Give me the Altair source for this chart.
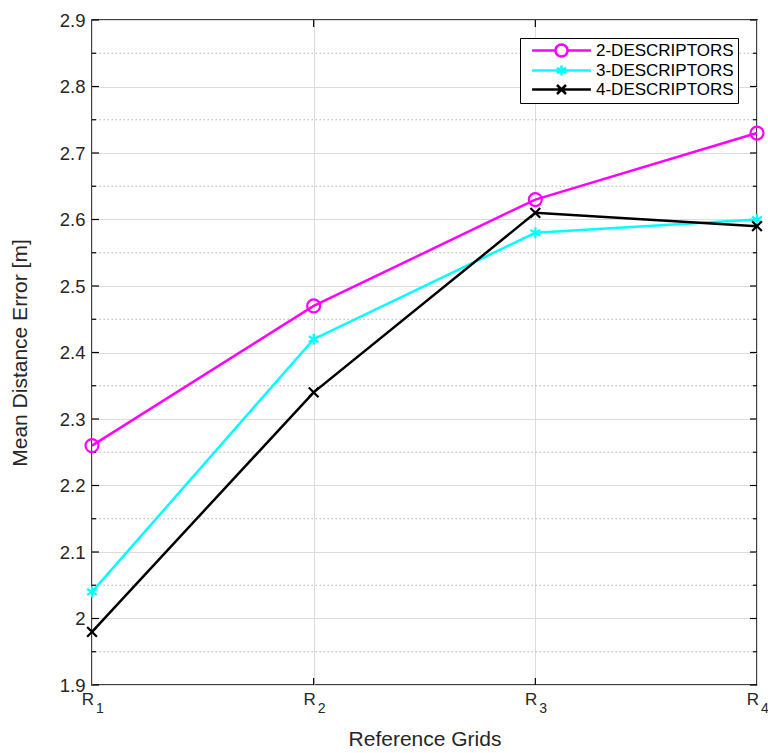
import math
import altair as alt
import pandas as pd

# ---- data ----
grid_pos = [1, 2, 3, 4]
grid_main = ["R", "R", "R", "R"]
grid_sub = ["1", "2", "3", "4"]
series = ["2-DESCRIPTORS", "3-DESCRIPTORS", "4-DESCRIPTORS"]
vals_2 = [2.26, 2.47, 2.63, 2.73]
vals_3 = [2.04, 2.42, 2.58, 2.60]
vals_4 = [1.98, 2.34, 2.61, 2.59]
colors = ["#FF00FF", "#00FFFF", "#000000"]
y_major = [1.9, 2.0, 2.1, 2.2, 2.3, 2.4, 2.5, 2.6, 2.7, 2.8, 2.9]
y_minor = [1.95, 2.05, 2.15, 2.25, 2.35, 2.45, 2.55, 2.65, 2.75, 2.85]

W, H = 665, 665
FONT = "Liberation Sans"
TXT = "#262626"

rows = []
for s, vs in zip(series, [vals_2, vals_3, vals_4]):
    for g, v in zip(grid_pos, vs):
        rows.append({"grid": g, "value": v, "series": s})
df = pd.DataFrame(rows)
df_grid = pd.DataFrame({"grid": grid_pos, "main": grid_main, "sub": grid_sub})
df_major = pd.DataFrame({"v": y_major})
df_minor = pd.DataFrame({"v": y_minor})
df_inner = pd.DataFrame({"grid": grid_pos[1:-1]})

xscale = alt.Scale(domain=[1, 4], nice=False, zero=False)
yscale = alt.Scale(domain=[1.9, 2.9], nice=False, zero=False)

x_axis = alt.Axis(values=grid_pos, labels=False, ticks=False, domain=False,
                  grid=True, gridColor="#dcdcdc", gridWidth=1,
                  title="Reference Grids", titleFontSize=21, titleFont=FONT,
                  titleFontWeight="normal", titleColor=TXT, titlePadding=43)
y_axis = alt.Axis(values=y_major, format="~g", labelFontSize=18.5, labelFont=FONT,
                  labelColor=TXT, labelPadding=7, ticks=False, domain=False,
                  grid=True, gridColor="#dcdcdc", gridWidth=1,
                  title="Mean Distance Error [m]", titleFontSize=21, titleFont=FONT,
                  titleFontWeight="normal", titleColor=TXT, titlePadding=29)

X = alt.X("grid:Q", scale=xscale, axis=x_axis)
Y = alt.Y("value:Q", scale=yscale, axis=y_axis)
YV = alt.Y("v:Q", scale=yscale, axis=y_axis)

color_scale = alt.Scale(domain=series, range=colors)
legend = alt.Legend(
    title=None, orient="none", legendX=428, legendY=18,
    strokeColor="#000000", fillColor="#ffffff", padding=4,
    labelFont=FONT, labelFontSize=17, labelColor="#000000",
    symbolSize=144, symbolStrokeWidth=2.5, symbolOffset=29, labelOffset=26,
    symbolFillColor="transparent", rowPadding=-4, cornerRadius=0,
)
color = alt.Color("series:N", scale=color_scale, legend=legend)

minor_grid = alt.Chart(df_minor).mark_rule(color="#b4b4b4", strokeDash=[1.5, 2.5], strokeWidth=1).encode(y=YV)

tick_l_major = alt.Chart(df_major).mark_rule(color="#000000", strokeWidth=1.2).encode(y=YV, x=alt.value(0), x2=alt.value(7))
tick_r_major = alt.Chart(df_major).mark_rule(color="#000000", strokeWidth=1.2).encode(y=YV, x=alt.value(W), x2=alt.value(W - 7))
tick_l_minor = alt.Chart(df_minor).mark_rule(color="#000000", strokeWidth=1.2).encode(y=YV, x=alt.value(0), x2=alt.value(4))
tick_r_minor = alt.Chart(df_minor).mark_rule(color="#000000", strokeWidth=1.2).encode(y=YV, x=alt.value(W), x2=alt.value(W - 4))
tick_b = alt.Chart(df_inner).mark_rule(color="#000000", strokeWidth=1.2).encode(x=X, y=alt.value(H), y2=alt.value(H - 7))
tick_t = alt.Chart(df_inner).mark_rule(color="#000000", strokeWidth=1.2).encode(x=X, y=alt.value(0), y2=alt.value(7))

lines = alt.Chart(df).mark_line(strokeWidth=2.5).encode(x=X, y=Y, color=color, detail="series:N")

# marker glyph shapes (unit coordinates)
poly_circle = "M" + "L".join(
    f"{math.cos(2 * math.pi * k / 24):.3f},{math.sin(2 * math.pi * k / 24):.3f}" for k in range(24)
) + "Z"
asterisk = "M0,-0.85V0.85M-0.75,-0.45L0.75,0.45M-0.75,0.45L0.75,-0.45"
xcross = "M-0.75,-0.75L0.75,0.75M-0.75,0.75L0.75,-0.75"
marker_paths = ["circle", asterisk, xcross]
legend_paths = [
    "M-4.9,0H-1M1,0H4.9" + poly_circle,
    "M-4.9,0H4.9" + asterisk,
    "M-4.9,0H4.9" + xcross,
]

point_layers = []
for s, p in zip(series, marker_paths):
    point_layers.append(
        alt.Chart(df).transform_filter(alt.datum.series == s)
        .mark_point(filled=False, strokeWidth=2.2, size=169, opacity=1, shape=p)
        .encode(x=X, y=Y, color=color)
    )

legend_layer = alt.Chart(df).transform_filter("false").mark_point(
    filled=False, strokeWidth=2.5, size=144, opacity=1
).encode(
    x=X, y=Y,
    color=color,
    shape=alt.Shape("series:N", scale=alt.Scale(domain=series, range=legend_paths), legend=legend),
)

mains = alt.Chart(df_grid).mark_text(align="right", baseline="top", fontSize=17, font=FONT, color=TXT, dx=2).encode(
    x=X, y=alt.value(H + 7), text="main:N")
subs = alt.Chart(df_grid).mark_text(align="left", baseline="top", fontSize=14, font=FONT, color=TXT, dx=4).encode(
    x=X, y=alt.value(H + 17), text="sub:N")

chart = alt.layer(
    legend_layer, minor_grid, tick_l_major, tick_r_major, tick_l_minor, tick_r_minor, tick_b, tick_t,
    lines, *point_layers, mains, subs,
).properties(
    width=W, height=H,
    autosize=alt.AutoSizeParams(type="none"),
    padding={"left": 92, "top": 20, "right": 11, "bottom": 68},
    background="#ffffff",
).configure_view(stroke="#000000", strokeWidth=1.5)

chart.save("out.html", embed_options={"renderer": "svg", "actions": False})
